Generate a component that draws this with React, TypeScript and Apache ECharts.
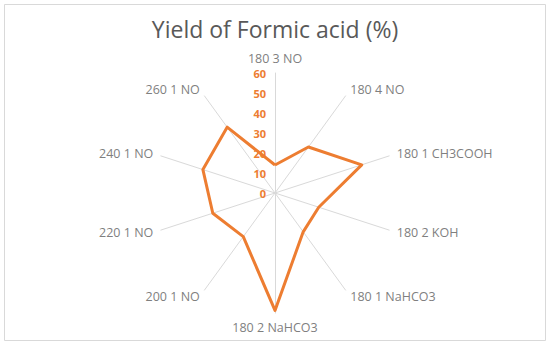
import React, { useEffect, useRef } from "react";
import * as echarts from "echarts";

const title = "Yield of Formic acid (%)";
// clockwise from top
const categories = [
  "180 3 NO",
  "180 4 NO",
  "180 1 CH3COOH",
  "180 2 KOH",
  "180 1 NaHCO3",
  "180 2 NaHCO3",
  "200 1 NO",
  "220 1 NO",
  "240 1 NO",
  "260 1 NO",
];
const yieldValues = [14, 28.4, 45.6, 23, 24, 58.7, 27, 32.7, 37.9, 40.7];
const axisMax = 60;
const tickInterval = 10;

const ORANGE = "#ED7D31";
const FONT = "'Open Sans', 'Liberation Sans', sans-serif";

export default function App() {
  const ref = useRef<HTMLDivElement>(null);
  useEffect(() => {
    if (!ref.current) return;
    const chart = echarts.init(ref.current, undefined, { renderer: "svg" });
    // ECharts places radar indicators counter-clockwise; reorder so they read clockwise
    const order = [0, ...categories.slice(1).map((_, i) => categories.length - 1 - i)];
    const indicators = order.map((i) => ({ name: categories[i], max: axisMax, min: 0 }));
    const values = order.map((i) => yieldValues[i]);
    chart.setOption({
      animation: false,
      backgroundColor: "#ffffff",
      title: {
        text: title,
        left: "center",
        top: 12,
        textStyle: { color: "#595959", fontSize: 23, fontWeight: "normal", fontFamily: FONT },
      },
      graphic: [
        {
          type: "rect",
          shape: { x: 4.5, y: 4.5, width: 541, height: 336 },
          style: { fill: "none", stroke: "#d9d9d9", lineWidth: 1 },
          silent: true,
        },
      ],
      radar: {
        center: [275, 193],
        radius: 120,
        startAngle: 90,
        shape: "polygon",
        nameGap: 8,
        indicator: indicators,
        axisName: { color: "#7f7f7f", fontSize: 12.5, fontFamily: FONT },
        axisLine: { lineStyle: { color: "#d9d9d9", width: 1 } },
        splitLine: { show: false },
        splitArea: { show: false },
        axisTick: { show: false },
        axisLabel: { show: false },
      },
      grid: { left: 275, top: 73, width: 1, height: 120 },
      xAxis: { type: "value", show: false },
      yAxis: {
        type: "value",
        min: 0,
        max: axisMax,
        interval: tickInterval,
        position: "left",
        axisLine: { show: false },
        axisTick: { show: false },
        splitLine: { show: false },
        axisLabel: { color: ORANGE, fontWeight: "bold", fontSize: 11, margin: 9, fontFamily: FONT },
      },
      series: [
        {
          type: "radar",
          symbol: "none",
          lineStyle: { color: ORANGE, width: 3 },
          itemStyle: { color: ORANGE },
          data: [{ value: values, name: "Yield" }],
        },
      ],
    });
    return () => chart.dispose();
  }, []);
  return (
    <div
      ref={ref}
      style={{ position: "absolute", left: 0, top: 0, width: 550, height: 345 }}
    />
  );
}
